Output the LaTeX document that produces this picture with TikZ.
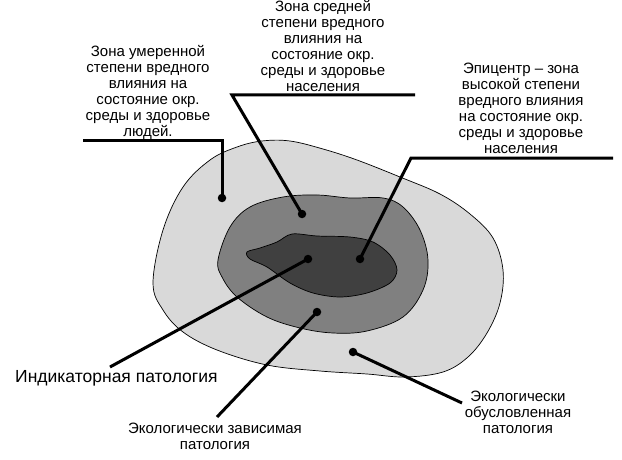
\documentclass[tikz,border=0pt]{standalone}
\usepackage{fontspec}
\setmainfont{Liberation Sans}
\definecolor{zoneA}{HTML}{D9D9D9}
\definecolor{zoneB}{HTML}{808080}
\definecolor{zoneC}{HTML}{404040}
\tikzset{
  zone/.style={draw=black, line width=0.7pt},
  leader/.style={draw=black, line width=3pt, line join=miter},
  lbl/.style={align=center, inner sep=0pt, font=\fontsize{15}{16}\selectfont},
  bigl/.style={inner sep=0pt, font=\fontsize{17.5}{20}\selectfont},
  spot/.style={fill=black, circle, minimum size=8.5pt, inner sep=0pt}
}
\begin{document}
\begin{tikzpicture}[x=1pt,y=-1pt]
\useasboundingbox (0,0) rectangle (622,460);
% outer zone
\draw[zone, fill=zoneA] plot[smooth cycle, tension=0.6] coordinates {
 (153,283) (163,230) (183,187) (210,160) (237,147) (262,141) (290,141)
 (323,149) (357,160) (400,177) (440,194) (470,214) (493,238) (503,270)
 (500,303) (487,333) (468,357) (443,372) (405,377) (367,374) (320,371)
 (267,365) (217,350) (183,332) (163,310)};
% middle zone
\draw[zone, fill=zoneB] plot[smooth cycle, tension=0.6] coordinates {
 (218,260) (230,227) (250,207) (283,197) (317,195) (350,198) (383,198)
 (403,207) (420,230) (428,260) (423,290) (403,317) (367,331) (333,333)
 (300,328) (267,317) (237,297) (222,277)};
% inner zone
\draw[zone, fill=zoneC] plot[smooth cycle, tension=0.55] coordinates {
 (247,252) (260,248) (277,242) (292,234) (317,236) (350,237) (373,242)
 (390,255) (397,270) (390,283) (367,293) (340,297) (313,293) (290,283)
 (267,267) (250,259)};
% spots
\node[spot] (d1) at (222,198) {};
\node[spot] (d2) at (302,214) {};
\node[spot] (d3) at (308,259) {};
\node[spot] (d4) at (360,259) {};
\node[spot] (d5) at (317,312) {};
\node[spot] (d6) at (353,352) {};
% leader corners / ends
\coordinate (a0) at (83,141);
\coordinate (a1) at (222,141);
\coordinate (b0) at (415,95);
\coordinate (b1) at (232,95);
\coordinate (c0) at (613,158);
\coordinate (c1) at (411,158);
\coordinate (e0) at (110,367);
\coordinate (f0) at (217,417);
\coordinate (g0) at (462,403);
% leaders
\draw[leader] (a0) -- (a1) -- (d1.center);
\draw[leader] (b0) -- (b1) -- (d2.center);
\draw[leader] (c0) -- (c1) -- (d4.center);
\draw[leader] (e0) -- (d3.center);
\draw[leader] (f0) -- (d5.center);
\draw[leader] (g0) -- (d6.center);
% labels
\node[lbl] (t1) at (148,92) {Зона умеренной\\степени вредного\\влияния на\\состояние окр.\\среды и здоровье\\людей.};
\node[lbl] (t2) at (323,46) {Зона средней\\степени вредного\\влияния на\\состояние окр.\\среды и здоровье\\населения};
\node[lbl] (t3) at (521,108) {Эпицентр – зона\\высокой степени\\вредного влияния\\на состояние окр.\\среды и здоровье\\населения};
\node[bigl, anchor=west] (t4) at (15,378) {Индикаторная патология};
\node[lbl] (t5) at (215,436) {Экологически зависимая\\патология};
\node[lbl] (t6) at (518,412) {Экологически\\обусловленная\\патология};
\end{tikzpicture}
\end{document}
